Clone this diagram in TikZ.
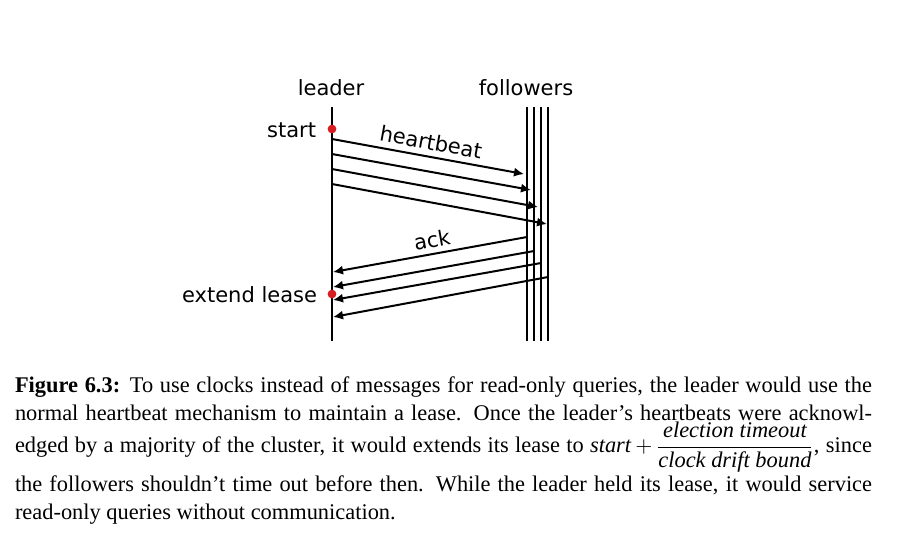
\documentclass[tikz,border=0pt]{standalone}
\usepackage{amsmath}
\usepackage{fontspec}
\setmainfont{Liberation Serif}
\newfontfamily\dejavu{DejaVu Sans}
\usetikzlibrary{arrows.meta}
\definecolor{dotred}{RGB}{214,30,34}

\begin{document}
\begin{tikzpicture}[x=0.5pt, y=-0.5pt, line width=1pt,
    msg/.style={-{Latex[length=5pt,width=4.6pt]}},
    lbl/.style={inner sep=0pt, font=\dejavu\fontsize{10.5}{12}\selectfont},
    evt/.style={fill=dotred, draw=none}]
  \useasboundingbox (0,0) rectangle (897,559);
  % Tidslinjer: leder og fire følgere
  \node[lbl] (leader) at (331,88) {leader};
  \node[lbl] (followers) at (526,88) {followers};
  \draw (332,107) -- (332,341);
  \foreach \xf in {527,534,541,548}
    \draw (\xf,107) -- (\xf,341);
  % Hjerteslag ut fra lederen
  \foreach \i/\ys/\xe/\ye in {1/139/524/174, 2/154/531/190, 3/169/538/207, 4/184/547/224} {
    \coordinate (hbs\i) at (332,\ys);
    \coordinate (hbe\i) at (\xe,\ye);
    \draw[msg] (hbs\i) -- (hbe\i);
  }
  \node[lbl, rotate=-10.3] (hblbl) at (431,142) {heartbeat};
  % Kvitteringer tilbake
  \foreach \i/\xs/\ys/\ye in {1/527/237/272, 2/534/251/287, 3/541/263/300, 4/548/277/317} {
    \coordinate (acks\i) at (\xs,\ys);
    \coordinate (acke\i) at (333,\ye);
    \draw[msg] (acks\i) -- (acke\i);
  }
  \node[lbl, rotate=10.2] (acklbl) at (432,240) {ack};
  % Hendelser på lederens linje
  \fill[evt] (332,129) circle[radius=2.2pt];
  \node[lbl, anchor=east] (start) at (317,130) {start};
  \fill[evt] (332,294) circle[radius=2.2pt];
  \node[lbl, anchor=east] (extend) at (318,295) {extend lease};
  % Figurtekst
  \node[anchor=base west, inner sep=0pt, text width=428.5pt, align=justify,
        font=\fontsize{11.2}{14}\selectfont] (caption) at (14,392)
    {\textbf{Figure 6.3:} To use clocks instead of messages for read-only queries, the leader would use the\linebreak
     normal heartbeat mechanism to maintain a lease. Once the leader's heartbeats were acknowl-\linebreak
     edged by a majority of the cluster, it would extends its lease to \textit{start}\,$+\,\dfrac{\textit{election timeout}}{\textit{clock drift bound}}$, since\rule[-10.5pt]{0pt}{15pt}\linebreak
     the followers shouldn't time out before then. While the leader held its lease, it would service\linebreak
     read-only queries without communication.};
\end{tikzpicture}
\end{document}
